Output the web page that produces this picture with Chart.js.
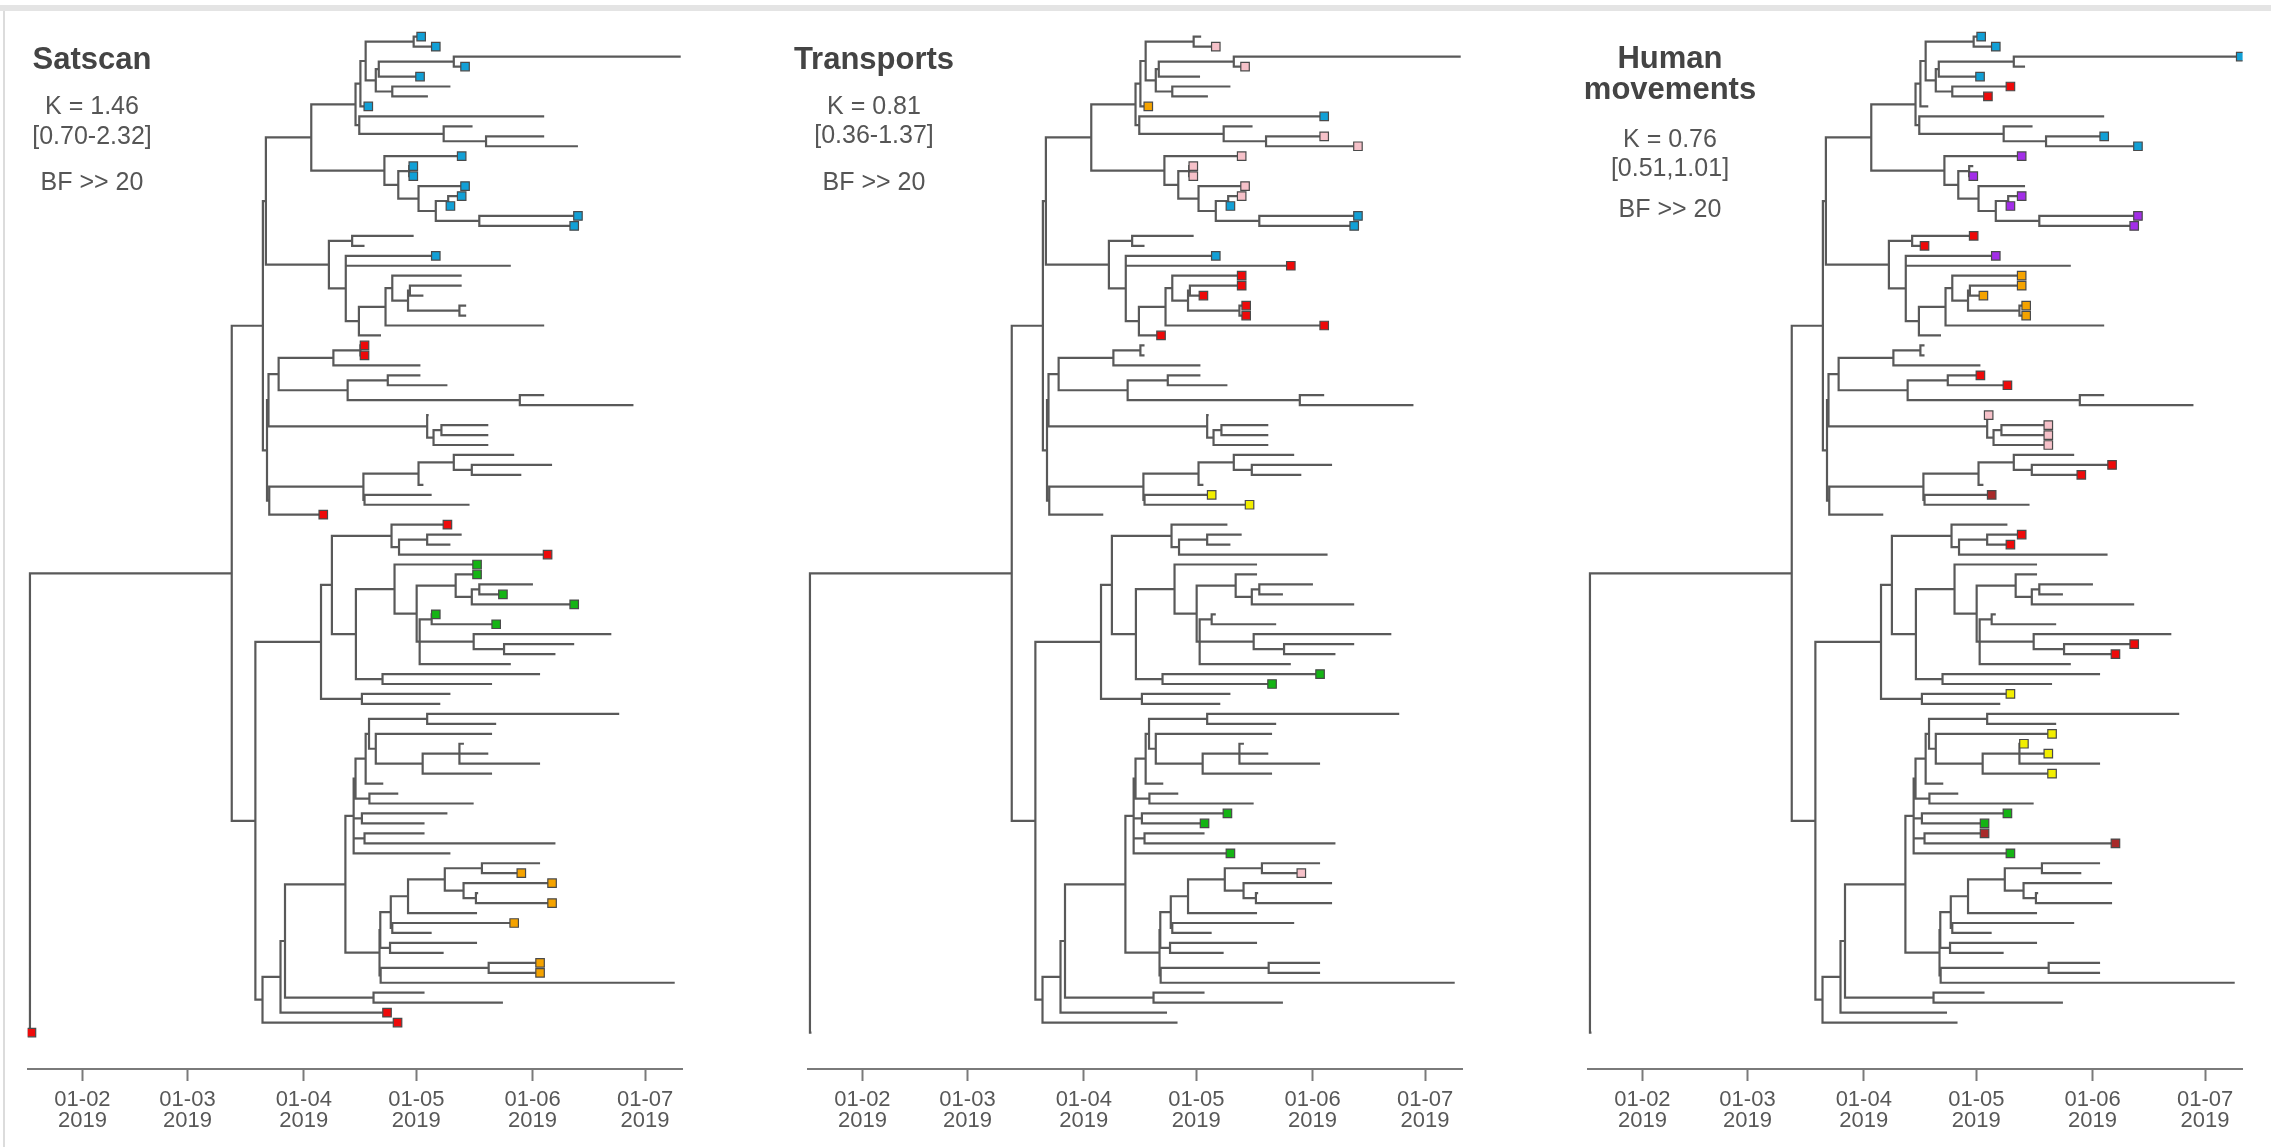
<!DOCTYPE html>
<html><head><meta charset="utf-8">
<script src="https://cdn.jsdelivr.net/npm/chart.js@4.4.1/dist/chart.umd.min.js"></script>
<style>
html,body{margin:0;padding:0;background:#fff;width:2271px;height:1147px;overflow:hidden;font-family:"Liberation Sans",Arial,Helvetica,sans-serif;}
#topband{position:absolute;left:0;top:5px;width:2271px;height:6px;background:#e4e4e4;}
#leftline{position:absolute;left:3px;top:11px;width:2px;height:1136px;background:#dcdcdc;}
canvas{position:absolute;top:0;}
.lbl{position:absolute;transform:translate(-50%,-50%);white-space:nowrap;color:#555;font-size:25px;line-height:1;}
.ttl{font-weight:bold;font-size:31px;color:#444;}
</style></head>
<body>
<div id="topband"></div><div id="leftline"></div>
<canvas id="c0" width="760" height="1147" style="left:0px"></canvas>
<canvas id="c1" width="760" height="1147" style="left:780px"></canvas>
<canvas id="c2" width="711" height="1147" style="left:1560px"></canvas>
<script>
// ---- axis (days since 2019-01-01) ----
const tickDays = [31, 59, 90, 120, 151, 181];
const tickLabels = [["01-02","2019"],["01-03","2019"],["01-04","2019"],["01-05","2019"],["01-06","2019"],["01-07","2019"]];

// ---- tip dates (days since 2019-01-01), tips listed top to bottom ----
const tipDates = [
 121.3,125.2,190.5,133.0,121.0,129.1,123.1,107.2,154.1,135.0,
 154.1,163.1,132.1,119.2,119.2,133.0,132.1,129.1,163.1,162.1,
 119.3,106.2,125.2,145.2,132.1,132.1,121.9,133.3,133.3,154.1,
 110.6,106.2,106.2,121.1,121.1,128.3,154.1,177.9,123.3,139.2,
 139.2,139.2,146.1,156.2,148.0,121.9,124.1,134.2,95.2,128.3,
 132.1,129.1,155.0,136.2,136.2,151.1,143.1,162.1,125.2,141.3,
 172.0,162.1,157.1,145.2,153.0,140.2,129.1,126.4,174.1,141.3,
 140.2,132.7,139.2,153.0,140.2,111.2,115.2,135.3,128.3,122.2,
 122.2,157.1,129.1,153.0,148.0,156.2,136.5,156.2,136.2,146.1,
 124.1,136.2,127.3,153.0,153.0,188.9,122.2,143.1,112.2,115.0,
 17.4];

// ---- internal nodes: name, date, children (tip index or node name) ----
const nodeNames = ["a1","a2","a3","a4","a5","a6","a7","a8","a9","a10","a11",
 "b1","b2","b3","b4","b5","b6","b7","b8",
 "c1","c2","c3","c4","c5","c6","c7","c8","c9","c10",
 "d1","d2","d3","d4","d5","d6","d7","d8","d9","d10","d11","d12","d13","d14","d15","d16","d17","d18",
 "e1","e2","e3","e4","e5","e6","e7","e8","e9","e10","e11","e12","e13","e14","e15","e16","e17",
 "f1","f2","f3","f4","f5","f6","f7","f8","f9","f10","f11",
 "g1","g2","g3","g4","g5","g6","g7","g8","g9","g10","g11","g12","g13","g14","g15","g16","g17","g18","g19","root"];
const nodeDates = [119.3,130.0,110.0,113.6,109.2,106.5,105.1,138.6,127.3,104.8,103.8,
 118.1,128.5,136.8,125.2,120.6,115.2,111.5,92.0,
 102.9,118.3,131.5,117.8,113.6,111.8,104.7,101.2,96.7,79.9,
 105.1,97.9,112.4,147.6,101.7,83.3,126.7,124.6,122.9,80.6,134.8,130.0,120.6,106.2,105.9,80.8,80.2,79.1,
 122.9,115.4,113.4,136.8,134.8,130.5,124.1,143.4,135.3,120.9,120.1,114.2,111.0,103.9,97.5,105.5,94.6,
 122.9,131.5,121.7,109.2,107.4,106.5,107.5,103.8,105.5,106.2,103.3,
 137.5,135.9,132.6,127.6,117.8,113.6,113.2,113.0,110.4,139.3,110.5,110.2,101.1,108.6,85.0,83.8,79.0,77.1,70.8,17.0];
const nodeChildren = [[0,1],[2,3],["a2",4],[5,6],["a3","a4"],["a1","a5"],["a6",7],[10,11],[9,"a8"],[8,"a9"],["a7","a10"],
 [13,14],[16,17],[18,19],["b2","b3"],[15,"b4"],["b1","b5"],[12,"b6"],["a11","b7"],
 [20,21],[25,26],[27,28],["c2","c3"],[24,"c4"],["c5",29],["c6",30],[22,23,"c7"],["c1","c8"],["b8","c9"],
 [31,32],["d1",33],[34,35],[36,37],["d3","d4"],["d2","d5"],[39,40],["d7",41],[38,"d8"],["d6","d9"],[43,44],[42,"d11"],["d12",45],[46,47],["d13","d14"],["d15",48],["d10","d16"],["c10","d17"],
 [50,51],["e1",52],[49,"e2"],[55,56],["e4",57],[54,"e5"],[58,59],[61,62],[60,"e8"],["e7","e9",63],["e6","e10"],[53,"e11"],[64,65],["e12","e13"],["e3","e14"],[66,67],["e15","e16"],
 [68,69],[71,72,73],["f2",74],[70,"f3"],["f1","f4"],["f5",75],[76,77],["f6","f7"],[78,79],[80,81],["f8","f9","f10",82],
 [83,84],[86,87],[85,"g2"],["g1","g3"],["g4",88],[89,90],["g5","g6"],[91,92],["g7","g8"],[93,94],["g10",95],["g9","g11"],["f11","g12"],[96,97],["g13","g14"],["g15",98],["g16",99],["e17","g17"],["d18","g18"],["g19",100]];

// ---- panel texts ----
const panelTitles = [["Satscan"],["Transports"],["Human","movements"]];
const kValues = ["K = 1.46","K = 0.81","K = 0.76"];
const kIntervals = ["[0.70-2.32]","[0.36-1.37]","[0.51,1.01]"];
const bfValues = ["BF >> 20","BF >> 20","BF >> 20"];

// ---- tip markers per panel (colour -> tip indices) ----
const satscanMarks = {
  blue:[0,1,3,4,7,12,13,14,15,16,17,18,19,22],
  red:[31,32,48,49,52,98,99,100],
  green:[53,54,56,57,58,59],
  orange:[84,85,87,89,93,94]};
const transportMarks = {
  pink:[1,3,10,11,12,13,14,15,16,84],
  orange:[7],
  blue:[8,17,18,19,22],
  red:[23,24,25,26,27,28,29,30],
  yellow:[46,47],
  green:[64,65,78,79,82]};
const humanMarks = {
  blue:[0,1,2,4,10,11],
  red:[5,6,20,21,34,35,43,44,50,51,61,62],
  purple:[12,14,16,17,18,19,22],
  orange:[24,25,26,27,28],
  pink:[38,39,40,41],
  darkred:[46,80,81],
  yellow:[66,70,71,72,74],
  green:[78,79,82]};

const palette = {blue:'#12a0d6', red:'#ee0a0a', green:'#14b414', orange:'#f5a300', pink:'#f6c1c9',
                 yellow:'#f2ee00', purple:'#a32ee8', darkred:'#a82a2a'};

// ---- tree layout (ape-style: node y = midpoint of first and last child) ----
const nodeIndex = {}; nodeNames.forEach((n,i)=>nodeIndex[n]=i);
const cache = {};
function pos(c){
  if (typeof c === 'number') return {x: tipDates[c], y: c};
  if (cache[c]) return cache[c];
  const i = nodeIndex[c];
  const kids = nodeChildren[i].map(pos);
  const p = {x: nodeDates[i], y: (kids[0].y + kids[kids.length-1].y)/2};
  cache[c] = p; return p;
}
const treeSegments = [];
nodeNames.forEach((n,i)=>{
  const p = pos(n);
  const kids = nodeChildren[i].map(pos);
  const f = kids[0], l = kids[kids.length-1];
  treeSegments.push({x:f.x,y:f.y},{x:p.x,y:f.y},{x:p.x,y:l.y},{x:l.x,y:l.y},{x:p.x,y:null});
  for (let k=1;k<kids.length-1;k++){
    treeSegments.push({x:p.x,y:kids[k].y},{x:kids[k].x,y:kids[k].y},{x:p.x,y:null});
  }
});

const FONT = '"Liberation Sans", Arial, Helvetica, sans-serif';
const canvasWidths = [760, 760, 711];
const panelMarks = [satscanMarks, transportMarks, humanMarks];

function makeChart(idx){
  const markerData = [], markerColors = [];
  for (const [col, tips] of Object.entries(panelMarks[idx])) {
    tips.forEach(t => { markerData.push({x: tipDates[t], y: t}); markerColors.push(palette[col]); });
  }
  new Chart(document.getElementById('c'+idx), {
    type: 'scatter',
    data: { datasets: [
      { data: markerData, pointStyle: 'rect', pointRadius: 6, pointHoverRadius: 6,
        pointBackgroundColor: markerColors, pointBorderColor: '#4a4a4a', pointBorderWidth: 1.2, order: 0 },
      { data: treeSegments, showLine: true, borderColor: '#595959', borderWidth: 2.2, pointRadius: 0,
        pointHoverRadius: 0, spanGaps: false, tension: 0, borderJoinStyle: 'miter', borderCapStyle: 'butt', order: 1 }
    ]},
    options: {
      responsive: false, animation: false, events: [], devicePixelRatio: 1,
      layout: { padding: { left: 27.7, right: canvasWidths[idx] - 682.6, top: 15, bottom: 18 } },
      plugins: { legend: {display:false}, tooltip: {enabled:false} },
      scales: {
        x: { type: 'linear', min: 16.4, max: 191,
             afterBuildTicks: s => { s.ticks = tickDays.map(v=>({value:v})); },
             afterFit: s => { s.height = 60; },
             ticks: { autoSkip:false, maxRotation:0, minRotation:0, padding: 8, color:'#585858',
                      font:{family:FONT, size:22, lineHeight:0.955},
                      callback: (v, i) => tickLabels[i] },
             grid: { display: true, drawOnChartArea: false, drawTicks: true, tickLength: 12,
                     tickWidth: 2, tickColor: '#7a7a7a', color: '#7a7a7a' },
             border: { display: true, color: '#7a7a7a', width: 2 } },
        y: { type: 'linear', reverse: true, min: -2.18, max: 103.66, display: false }
      }
    }
  });
}
[0,1,2].forEach(makeChart);

// ---- text labels ----
const textX = [92, 874, 1670];
const titleY = [[58],[58],[57,88]];
const kY = [104.5, 104.5, 138];
const ciY = [135, 134, 167];
const bfY = [180.5, 180.5, 208];
function addLabel(txt, x, y, cls){
  const d = document.createElement('div');
  d.className = 'lbl' + (cls ? ' '+cls : '');
  d.textContent = txt; d.style.left = x+'px'; d.style.top = y+'px';
  document.body.appendChild(d);
}
for (let p=0;p<3;p++){
  panelTitles[p].forEach((t,j)=>addLabel(t, textX[p], titleY[p][j], 'ttl'));
  addLabel(kValues[p], textX[p], kY[p]);
  addLabel(kIntervals[p], textX[p], ciY[p]);
  addLabel(bfValues[p], textX[p], bfY[p]);
}
</script>
</body></html>
